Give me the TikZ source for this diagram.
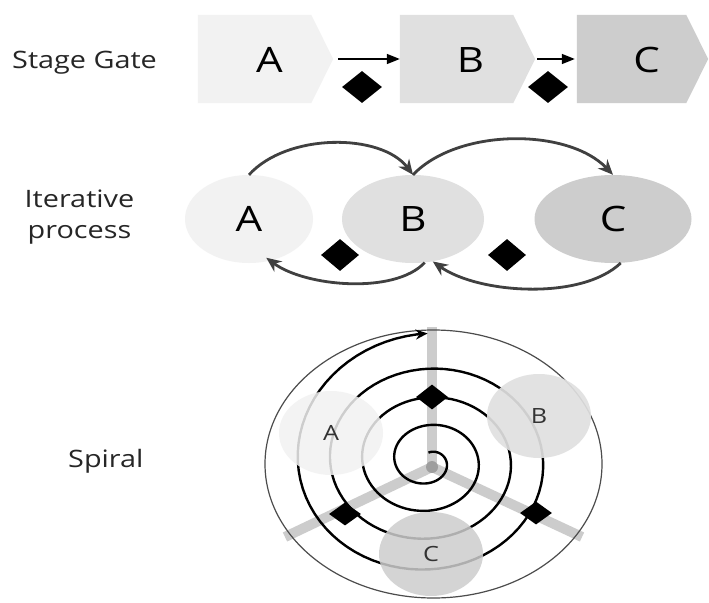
\documentclass[tikz,border=0pt]{standalone}
\usepackage{fontspec}
\setmainfont[FakeStretch=1.2]{Open Sans}
\usetikzlibrary{arrows.meta,shapes.geometric,backgrounds}
\definecolor{toneA}{HTML}{F2F2F2}
\definecolor{toneB}{HTML}{E0E0E0}
\definecolor{toneC}{HTML}{CDCDCD}
\definecolor{arcgray}{HTML}{404040}
\definecolor{spokegray}{HTML}{CCCCCC}
\begin{document}
\begin{tikzpicture}[x=1pt,y=-1pt,
  rowlabel/.style={font=\fontsize{24}{31}\selectfont, text=black!85, inner sep=0pt},
  bigletter/.style={font=\fontsize{35}{35}\selectfont, text=black},
  gatebody/.style={minimum height=88pt, inner sep=0pt},
  gatelink/.style={draw=black, line width=1.6pt, -{Triangle[length=13pt,width=10pt]}},
  gem/.style={diamond, fill=black, inner sep=0pt, minimum width=40pt, minimum height=32pt},
  smallgem/.style={diamond, fill=black, inner sep=0pt, minimum width=32pt, minimum height=24pt},
  blob/.style={ellipse, inner sep=0pt, minimum height=88pt, bigletter},
  loopline/.style={draw=arcgray, line width=2.8pt, -{Stealth[length=15pt,width=13pt]}},
  spoke/.style={draw=spokegray, line width=10pt},
  ringblob/.style={ellipse, inner sep=0pt, minimum width=104pt, minimum height=84pt,
    fill opacity=0.85, text opacity=1, font=\fontsize{21}{21}\selectfont, text=black!80},
]
\useasboundingbox (0,0) rectangle (709,602);

% row labels
\node[rowlabel, anchor=base west] (labGate) at (12,68) {Stage Gate};
\node[rowlabel, align=center] (labIter) at (79.5,217) {Iterative\\process};
\node[rowlabel, anchor=base west] (labSpiral) at (68,467) {Spiral};

% stage gate row: chevron bodies, then their letters
\node[gatebody, minimum width=135pt] (gA) at (265.5,59) {};
\node[gatebody, minimum width=135pt] (gB) at (467.5,59) {};
\node[gatebody, minimum width=131pt] (gC) at (642.5,59) {};
\begin{scope}[on background layer]
  \fill[white] (0,0) rectangle (709,602);
  \foreach \n/\c in {gA/toneA, gB/toneB, gC/toneC}
    \fill[\c] (\n.north west) -- ([xshift=-22pt]\n.north east) -- (\n.east)
      -- ([xshift=-22pt]\n.south east) -- (\n.south west) -- cycle;
\end{scope}
\node[bigletter] (gAtext) at ([xshift=4pt,yshift=-1pt]gA.center) {A};
\node[bigletter] (gBtext) at ([xshift=3pt,yshift=-1pt]gB.center) {B};
\node[bigletter] (gCtext) at ([xshift=4pt,yshift=-1pt]gC.center) {C};
\draw[gatelink, shorten <=5pt] (gA.east) -- (gB.west);
\draw[gatelink, shorten <=2pt, shorten >=2pt] (gB.east) -- (gC.west);
\node[gem] (gateAB) at (362,87) {};
\node[gem] (gateBC) at (548,87) {};

% iterative row
\node[blob, fill=toneA, minimum width=128pt] (iA) at (249,219) {A};
\node[blob, fill=toneB, minimum width=142pt] (iB) at (413,219) {B};
\node[blob, fill=toneC, minimum width=157pt] (iC) at (613,219) {C};
\draw[loopline] (iA.north) .. controls +(38,-42) and +(-32,-42) .. (iB.north);
\draw[loopline] (iB.north) .. controls +(45,-47) and +(-45,-47) .. (iC.north);
\draw[loopline, shorten >=-5pt] (iB.-75) .. controls +(-30,32) and +(35,26) .. (iA.-63);
\draw[loopline] (iC.-80) .. controls +(-40,38) and +(45,32) .. (iB.-65);
\node[gem, minimum width=38pt] (gateIAB) at (340,255) {};
\node[gem, minimum width=38pt] (gateIBC) at (507,255) {};

% spiral
\coordinate (hub) at (432,467);
\coordinate (spokeN) at (432,327);
\coordinate (spokeSW) at (285,537);
\coordinate (spokeSE) at (582,537);
\draw[spoke] (hub) -- (spokeN);
\draw[spoke] (hub) -- (spokeSW);
\draw[spoke] (hub) -- (spokeSE);
\fill[black!38] (hub) circle[radius=6pt];
\draw[black!70, line width=1.2pt] (433.5,464) ellipse[x radius=168.5pt, y radius=134pt];
\draw[line width=2.4pt, -{Stealth[length=12pt,width=10pt]}]
  plot[variable=\t, domain=0:4, samples=321]
  ({428.5+(32.25*\t+9.75)*sin(360*\t)},
   {461-(0.855+0.065*(\t/4)^6)*(32.25*\t+9.75)*cos(360*\t)});
\node[smallgem, minimum height=25pt] (ringN) at (432,397) {};
\node[smallgem, minimum height=23pt] (ringSW) at (345,514) {};
\node[smallgem, minimum height=23pt] (ringSE) at (536,513) {};
\node[ringblob, fill=toneA] (sA) at (331,433) {A};
\node[ringblob, fill=toneB, fill opacity=0.92] (sB) at (539,416) {B};
\node[ringblob, fill=toneC] (sC) at (431,554) {C};
\end{tikzpicture}
\end{document}
